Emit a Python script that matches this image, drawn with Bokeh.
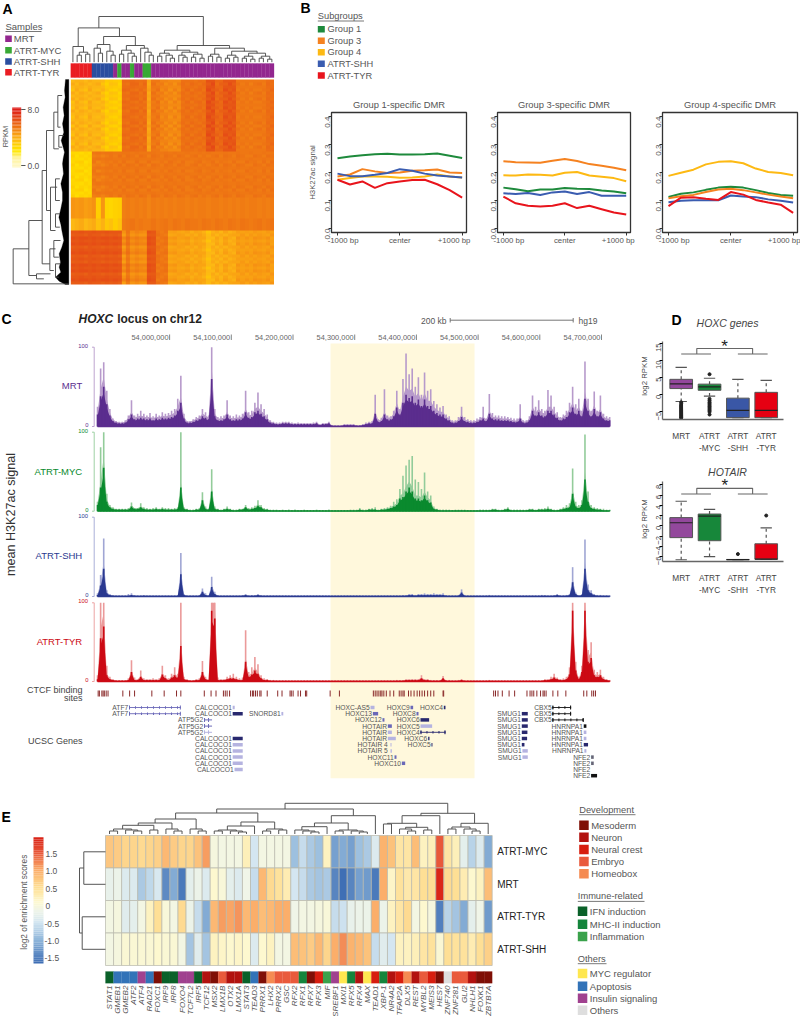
import numpy as np
from math import pi
from bokeh.core.properties import value
from bokeh.embed import file_html
from bokeh.layouts import column, row
from bokeh.models import FixedTicker, LinearAxis, LinearColorMapper, NumeralTickFormatter, Range1d
from bokeh.plotting import figure
from bokeh.resources import INLINE

FONT = "Liberation Sans"

# ---------- Panel A data ----------
SAMPLE_NAMES = ["MRT", "ATRT-MYC", "ATRT-SHH", "ATRT-TYR"]
SAMPLE_COLORS = ["#93278f", "#39a935", "#2b4ea0", "#ea1d23"]
A_ANNOT_GROUP = ["ATRT-TYR"]*5 + ["ATRT-SHH"]*5 + ["MRT"] + ["ATRT-MYC"] + ["MRT"]*2 + ["ATRT-MYC"] + ["MRT"]*2 + ["ATRT-MYC"]*2 + ["MRT"]*29
A_TEMPLATES = [
 [36,38,38,36,39,37,37,36,31,32,31,30,56,56,57,56,55,56,42,53,53,50,50,49,49,49,55,55,55,54,56,55,64,64,58,58,63,63,63,53,53,53,53,53,53,53,56,56],
 [40,36,40,38,36,38,40,33,29,34,33,28,55,54,58,58,54,58,40,55,51,52,48,50,47,51,56,54,57,55,54,57,62,66,56,60,61,65,61,55,52,54,51,54,55,52,57,55],
 [34,40,36,34,41,36,35,38,33,30,29,32,58,57,55,54,57,54,44,52,55,49,51,47,51,48,54,57,53,56,57,54,66,62,60,57,65,62,64,52,54,52,54,52,52,54,55,58],
 [27,26,25,28,26,53,54,53,54,54,53,53,54,54,53,54,53,53,53,54,53,53,54,53,54,53,53,54,53,53,54,53,54,53,53,53,54,53,53,54,53,53,54,53,53,54,53,53],
 [30,24,28,26,29,51,52,50,52,54,52,55,52,55,54,52,55,54,51,55,54,52,55,54,52,55,54,52,54,55,52,54,52,54,55,52,55,54,52,55,54,52,52,55,54,52,55,54],
 [26,29,30,24,27,54,50,52,53,52,54,52,55,52,52,55,52,52,55,52,52,54,52,55,53,52,55,52,52,54,55,52,53,55,52,54,53,52,55,52,52,55,53,54,52,55,52,55],
 [46,45,46,44,45,47,30,46,28,27,29,30,51,52,51,52,51,52,50,52,51,52,51,52,51,52,52,51,52,51,52,52,51,52,52,51,52,51,52,51,52,51,52,52,51,52,51,52],
 [36,38,40,36,38,40,34,38,32,34,30,33,52,53,54,52,53,52,52,54,52,53,54,52,54,53,52,54,53,53,52,54,53,52,54,53,52,54,53,52,54,53,52,53,54,52,53,54],
 [63,63,64,63,63,64,63,63,64,63,63,63,47,54,48,50,49,48,64,63,54,52,54,43,44,42,41,43,39,42,41,38,33,38,40,37,42,38,40,44,43,44,43,45,44,43,45,44],
 [61,62,62,60,63,62,62,60,62,61,62,60,44,52,46,48,46,46,62,62,55,53,52,41,42,44,43,40,42,39,43,40,35,40,37,40,38,41,42,42,45,42,45,43,45,44,43,46],
 [65,64,65,65,64,65,64,65,65,64,65,64,50,56,50,52,50,50,65,64,52,54,55,45,46,43,44,45,41,44,42,42,36,36,42,38,44,40,38,46,44,46,44,47,46,45,47,43],
]
A_ROW_ORDER = [0,1,0,2,1,0,1,2,0,2,1,0,2,0,1,2,1,0,2,1,0,2,1,0,
               3,4,3,5,4,3,5,3,4,5,3,4,5,3,4,
               6,6,6,6,6,6,6,7,7,7,7,
               8,9,10,8,10,9,8,10,9,8,9,10,8,10,9,8,10,9]
A_COL_TREE = (45.7,
  (34.3,
    (15.7, 0, (10, (7, 1, 2), (8, 3, 4))),
    (25.7,
      (17.7, (14, 5, (9, 6, 7)), (11, 8, (7, 9, 10))),
      (16.7, (12, (8, 11, 12), (9, 13, (6, 14, 15))), (14, 16, (10, 17, (7, 18, 19)))))),
  (16.7,
    (12, (9, (6, 20, 21), (7, 22, (4, 23, 24))), (10, (7, 25, (5, 26, 27)), (8, (5, 28, 29), (4, 30, 31)))),
    (14, (8, (6, 32, 33), (5, 34, 35)), (11, (7, (4, 36, 37), (5, 38, 39)), (9, (6, (4, 40, 41), (3, 42, 43)), (6, (4, 44, 45), (3, 46, 47)))))))
A_ROW_BRACKETS = [(38,745,850,85,205),(85,660,825,125,108),(125,510,790,138,148),(138,390,630,160,150),
                  (160,335,445,172,175),(150,560,690,170,165),(148,745,810,165,160),(108,820,835,150,130),
                  (172,285,380,185,180),(175,405,440,190,185),(165,535,600,178,178),(165,640,680,178,178),(160,720,770,180,175),(165,790,830,180,175)]
A_WEDGE = [(205,237),(195,237),(192,270),(194,290),(188,320),(191,345),(186,370),(190,395),(182,420),(188,440),(192,455),(188,475),(186,490),(189,520),
           (181,550),(186,575),(186,600),(181,625),(175,650),(181,672),(184,690),(190,720),(184,740),(176,760),(180,785),(176,800),(181,815),(165,830),(176,842),(195,852),(205,852)]

# ---------- Panel B data ----------
SUBGROUPS = ["Group 1", "Group 3", "Group 4", "ATRT-SHH", "ATRT-TYR"]
SUB_COLORS = ["#1e8a3c", "#f58220", "#fdb913", "#3a5cb0", "#e8141c"]
BIN_POS = [-1000,-800,-600,-400,-200,0,200,400,600,800,1000]
G1_DMR = [[.251,.257,.262,.265,.267,.264,.264,.265,.268,.260,.252],
          [.186,.193,.212,.204,.198,.200,.206,.208,.211,.200,.198],
          [.174,.180,.186,.186,.185,.181,.182,.186,.193,.186,.182],
          [.196,.187,.187,.192,.198,.212,.206,.196,.189,.186,.182],
          [.174,.157,.168,.145,.162,.168,.173,.174,.158,.137,.110]]
G3_DMR = [[.146,.140,.133,.139,.139,.145,.142,.141,.136,.132,.126],
          [.240,.237,.236,.235,.242,.248,.241,.230,.224,.217,.208],
          [.190,.189,.193,.192,.189,.199,.202,.189,.185,.180,.169],
          [.126,.123,.127,.120,.129,.132,.123,.130,.117,.117,.117],
          [.114,.090,.081,.079,.081,.090,.073,.081,.069,.057,.050]]
G4_DMR = [[.113,.124,.129,.138,.146,.149,.146,.137,.127,.120,.117],
          [.108,.115,.120,.130,.139,.142,.137,.129,.121,.114,.108],
          [.188,.199,.210,.229,.238,.240,.233,.214,.202,.198,.190],
          [.094,.099,.101,.101,.101,.118,.114,.112,.104,.099,.093],
          [.080,.110,.112,.106,.102,.130,.121,.102,.093,.085,.056]]

# ---------- Panel C data (bins of 5 kb from 53,885 kb) ----------
TRACK_START_KB = 53885
TRACK_STEP_KB = 5
MRT_MAX = [25,73,81,45,22,10,7,6,6,8, 14,33,14,16,20,16,14,17,13,16, 14,18,16,17,20,22,35,64,16,7, 7,9,12,14,22,18,14,100,22,12,
           13,14,33,14,13,15,14,16,45,18, 20,30,43,28,22,15,8,6,5,5, 6,6,6,5,4,5,4,4,4,4, 5,6,3,4,4,6,2,1,1,1,
           3,3,3,3,2,2,3,5,6,7, 40,9,11,47,14,13,20,45,22,60, 92,66,73,50,62,40,68,45,47,32, 28,24,26,15,13,8,8,12,25,12,
           9,8,8,10,12,25,10,41,17,14, 14,13,13,12,11,10,10,28,8,8, 13,39,25,33,22,20,46,39,25,18, 12,15,20,30,50,28,35,20,82,35, 20,44,20,39,16,13,12]
MRT_MEAN = [15,38,50,28,14,7,5,4,4,5, 9,15,9,10,11,10,9,10,8,10, 9,11,10,11,12,14,20,30,10,5, 5,6,8,9,13,11,9,60,13,8,
            8,9,15,9,8,9,9,10,18,11, 12,18,20,16,13,9,5,4,3,3, 4,4,4,3,3,3,3,3,3,3, 3,4,2,3,3,4,1,1,1,1,
            2,2,2,2,1,1,2,3,4,4, 16,6,7,15,9,9,13,24,15,30, 40,36,38,30,34,26,34,26,26,20, 17,15,15,10,8,5,5,7,12,7,
            6,5,5,6,8,10,7,16,10,9, 9,8,8,8,7,6,6,10,5,5, 8,20,14,18,14,13,20,20,15,11, 8,10,12,18,24,16,20,13,35,20, 13,22,13,18,10,8,8]
MYC_MAX = [12,81,100,22,8,5,3,3,3,3, 4,11,4,4,10,5,4,3,4,5, 3,5,4,4,3,4,5,100,5,3, 2,2,3,4,24,6,3,53,6,3,
           2,3,6,3,2,2,3,3,8,4, 5,7,14,8,4,3,2,2,2,1, 2,1,2,1,2,1,1,2,1,1, 1,2,1,1,1,2,1,1,1,1,
           1,1,2,2,2,4,2,2,3,4, 5,2,3,4,5,7,12,15,28,45, 58,65,70,40,37,28,49,25,20,6, 3,2,2,2,2,1,2,2,2,2,
           1,1,1,1,2,2,2,2,3,3, 2,2,3,5,2,2,2,2,2,2, 3,3,2,3,3,4,6,3,2,2, 3,5,8,10,54,12,8,14,97,25, 8,5,4,3,3,2,2]
MYC_MEAN = [8,30,55,12,5,3,2,2,2,2, 2,6,3,3,5,3,2,2,2,3, 2,3,2,2,2,2,3,30,3,2, 1,1,2,2,14,3,2,25,3,2,
            1,2,3,2,1,1,2,2,5,2, 3,4,7,5,2,2,1,1,1,1, 1,1,1,1,1,1,1,1,1,1, 1,1,1,1,1,1,1,1,1,1,
            1,1,1,1,1,2,1,1,2,2, 2,1,2,2,3,4,6,8,16,18, 25,30,25,16,16,14,20,14,11,3, 2,1,1,1,1,1,1,1,1,1,
            1,1,1,1,1,1,1,1,2,2, 1,1,2,3,1,1,1,1,1,1, 2,2,1,2,2,2,3,2,1,1, 2,3,4,5,22,6,4,8,40,12, 4,3,2,2,1,1,1]
SHH_MAX = [4,27,73,8,3,2,1,1,1,1, 3,4,2,1,1,2,1,1,1,1, 1,1,1,1,1,1,2,55,3,1, 1,1,1,2,10,4,1,25,6,2,
           1,1,1,1,1,1,1,2,3,1, 2,2,3,2,1,1,1,1,1,1, 1,1,1,1,1,1,1,1,1,1, 1,1,1,1,1,1,1,1,1,1,
           1,1,1,1,1,1,1,1,1,1, 1,1,1,1,1,1,1,1,1,2, 2,3,3,2,3,3,4,3,3,4, 3,3,4,2,1,1,1,2,9,2,
           1,1,1,1,1,1,1,2,1,1, 1,1,1,1,1,1,1,1,1,1, 1,1,1,1,2,2,1,1,2,3, 1,1,2,3,37,5,1,3,72,15, 8,3,2,2,1,1,1]
SHH_MEAN = [2,14,35,4,2,1,1,1,1,1, 1,2,1,1,1,1,1,1,1,1, 1,1,1,1,1,1,1,28,2,1, 1,1,1,1,6,2,1,12,3,1,
            1,1,1,1,1,1,1,1,2,1, 1,1,2,1,1,1,1,1,1,1, 1,1,1,1,1,1,1,1,1,1, 1,1,1,1,1,1,1,1,1,1,
            1,1,1,1,1,1,1,1,1,1, 1,1,1,1,1,1,1,1,1,1, 1,2,2,1,2,2,2,2,2,2, 2,2,2,1,1,1,1,1,5,1,
            1,1,1,1,1,1,1,1,1,1, 1,1,1,1,1,1,1,1,1,1, 1,1,1,1,1,1,1,1,1,2, 1,1,1,2,18,3,1,2,35,8, 4,2,1,1,1,1,1]
TYR_MAX = [8,100,100,20,6,3,2,2,2,2, 4,27,5,3,14,4,3,3,4,3, 4,20,8,4,10,18,10,100,6,3, 2,2,3,4,26,6,3,100,100,5,
           3,3,6,8,10,6,4,5,65,12, 18,31,22,8,4,3,2,2,1,1, 1,1,1,1,1,1,1,1,1,1, 1,1,1,1,1,1,1,1,1,1,
           1,1,1,1,1,1,1,1,1,1, 1,1,1,1,1,1,1,2,2,2, 3,3,3,3,3,8,3,3,2,2, 2,2,7,2,2,1,1,2,3,1,
           1,1,1,1,1,1,1,2,1,1, 1,1,1,1,1,1,1,1,1,1, 1,1,1,1,1,3,3,6,10,5, 3,4,6,18,100,25,6,20,100,40, 50,15,12,15,6,3,2]
TYR_MEAN = [3,55,70,8,3,2,1,1,1,1, 2,12,2,2,6,2,2,2,2,2, 2,9,4,2,5,8,5,45,3,2, 1,1,2,2,12,3,2,90,80,2,
            2,2,3,4,4,3,2,2,25,6, 9,14,10,4,2,2,1,1,1,1, 1,1,1,1,1,1,1,1,1,1, 1,1,1,1,1,1,1,1,1,1,
            1,1,1,1,1,1,1,1,1,1, 1,1,1,1,1,1,1,1,1,1, 2,2,2,2,2,4,2,2,1,1, 1,1,4,1,1,1,1,1,2,1,
            1,1,1,1,1,1,1,1,1,1, 1,1,1,1,1,1,1,1,1,1, 1,1,1,1,1,2,2,3,5,3, 2,2,3,9,90,14,3,12,90,25, 30,8,6,8,3,2,1]
GENOME_TICKS_KB = [54000,54100,54200,54300,54400,54500,54600,54700]
GENOME_TICK_LABELS = ["54,000,000","54,100,000","54,200,000","54,300,000","54,400,000","54,500,000","54,600,000","54,700,000"]
CTCF_KB = [-114,-112,-108,-106,-104,-101,-98,-74,-63,-55,-27,-7,13,20,58,69,77,89,92,95,99,133,136,138,141,144,148,150,160,177,184,197,199,202,210,214,222,224,262,277,
           332,335,338,341,344,346,349,353,359,365,374,377,380,382,389,393,398,403,407,411,415,420,425,430,445,446,
           527,530,534,541,552,561,581,586,589,592,597,603,607,609,612,623,631,644,673,678,686,689,692]
GENE_NAMES = ["ATF7","ATF7","CALCOCO1","CALCOCO1","SNORD81","ATP5G2","ATP5G2","ATP5G2","CALCOCO1","CALCOCO1","CALCOCO1","CALCOCO1","CALCOCO1","CALCOCO1",
              "HOXC-AS5","HOXC13","HOXC12","HOTAIR","HOTAIR","HOTAIR","HOTAIR  4","HOTAIR  5","HOXC11","HOXC10",
              "HOXC9","HOXC8","HOXC6","HOXC5","HOXC4","HOXC6","HOXC5","HOXC4",
              "SMUG1","SMUG1","SMUG1","SMUG1","SMUG1","SMUG1","SMUG1","SMUG1",
              "CBX5","CBX5","CBX5","HNRNPA1","HNRNPA1","HNRNPA1","HNRNPA1","HNRNPA1","NFE2","NFE2","NFE2","NFE2"]
GENE_START = [-64,-64,104,104,183,57.6,57.6,57.6,104,104,104,104,104,107,
              327.4,331.2,346.8,355.5,355.5,355.5,359.8,359.8,366.3,378.2,
              392.2,401.9,408.4,408.4,408.4,420.8,426.2,446.2,
              572.6,572.6,572.6,572.6,572.6,572.6,573.6,573.6,
              622.2,622.2,622.2,673,673,673,673,674,684.9,684.9,684.9,684.9]
GENE_END = [20,20,107.3,120.3,186,70.6,70.6,70.6,120.3,120.3,120.3,120.3,120.3,120.3,
            333.9,339.8,350,362,362,368.4,361.4,362,369.5,383.6,
            396.5,405.2,422.4,427.3,448.9,423,427.8,448.9,
            582.3,582.3,582.3,581.7,581.2,576.9,582.3,582.3,
            652.5,652.5,673,677.3,677.3,677.3,680,677.3,689.2,689.2,684.9,694.6]
GENE_ROW = [0,1,0,1,1,2,3,4,5,6,7,8,9,10, 0,1,2,3,4,5,6,7,8,9, 0,1,2,3,4,5,6,0, 1,2,3,4,5,6,7,8, 0,1,2,3,4,5,6,7,8,9,10,11]
GENE_SHADE = ["m","m","l","d","l","m","m","l","d","l","l","l","l","l",
              "l","m","m","m","l","l","l","l","m","m",
              "m","m","d","l","d","d","d","d",
              "d","d","d","d","d","d","l","l",
              "k","k","k","k","l","l","d","l","g","g","g","k"]

# ---------- Panel D data ----------
BOX_LABELS = {1:"MRT", 2:"ATRT\n-MYC", 3:"ATRT\n-SHH", 4:"ATRT\n-TYR"}
BOX_COLORS = ["#93489c", "#17873a", "#3a57a6", "#e60012"]
HOXC_Q1 = [1.8, 1.3, -6.7, -6.7]
HOXC_MED = [3.2, 2.3, -4.6, -4.6]
HOXC_Q3 = [4.5, 3.1, -1.0, 0.7]
HOXC_HI = [8.0, 4.8, 4.5, 4.2]
HOXC_LO = [-2.0, -0.4, -6.7, -6.7]
HOXC_OUT_X = [1]*16 + [2]*12
HOXC_OUT_Y = [-2.2,-2.6,-3,-3.3,-3.6,-3.9,-4.2,-4.5,-4.8,-5.1,-5.4,-5.7,-6,-6.3,-6.6,-6.8, 6.0,-1.2,-1.7,-2.2,-2.6,-3,-3.4,-3.8,-4.2,-4.6,-5,-5.8]
HOT_Q1 = [-2.3, -2.9, -6.6, -6.5]
HOT_MED = [0.6, 1.9, -6.6, -6.5]
HOT_Q3 = [1.6, 2.3, -6.55, -3.5]
HOT_HI = [4.8, 3.2, -6.55, -0.4]
HOT_LO = [-6.6, -6.0, -6.6, -6.5]
HOT_OUT_X = [3, 4]
HOT_OUT_Y = [-5.5, 2.0]

# ---------- Panel E data ----------
TF_NAMES = ["STAT1","GMEB1","GMEB2","ATF2","ATF4","RAD21","FOXC1","IRF9","IRF8","FOXO4","TCF7L2","IRF5","TCF12","MSX2","LMX1B","OTX2","LMX1A","STAT3","TEAD3","PRRX1","LHX2","PRRX2","GSC","RFX2","RFX1","RFX7","RFX3","MIF","SREBF1","MXI1","RFX5","RFX4","MAX","TEAD1","XBP-1","NR4A2","TFAP2A","DLX5","REST","MYBL2","MEIS3","HES7","ZNF740","ZNF281","GLI2","NHLH1","FOXK1","ZBTB7A"]
ROW_NAMES = ["ATRT-MYC", "MRT", "ATRT-TYR", "ATRT-SHH"]
ENRICH_MYC = [.75,.7,.6,.6,.55,.6,.65,.9,.7,.6,.6,.8,1.1,-.05,-.1,-.1,-.1,.25,-.5,-.1,-.1,-.1,-.1,-.9,-.6,-.8,-.9,.2,-1.2,-1.1,-1.2,-.9,-.8,-.4,.95,.8,.4,.4,.85,.2,.25,1.5,.4,.25,-.3,-.7,-.4,-1.1]
ENRICH_MRT = [-.25,-.2,-.4,-.4,-.8,-.65,-.45,-1.4,-1.1,-1.55,-.3,-.2,-.4,.1,0,-.3,-.4,-.15,-.6,.9,.55,.45,.3,-.5,-.6,-.8,-.85,-.8,-1.45,-1.65,-1.45,-1.2,-1.25,-1.55,1.0,.15,.45,.35,.4,.5,.5,1.9,.55,.5,.3,.1,.2,.85]
ENRICH_TYR = [-.1,-.05,-.35,-.3,-.1,.2,.5,0,-.1,.55,-.2,-.6,-1.1,.9,1.1,1.05,1.15,.9,1.0,.85,.9,1.0,1.0,-.15,-.1,-.1,-.05,0,-.6,-.55,-.25,-.2,-.2,1.0,-.2,.2,.4,.55,-.1,.1,-.05,-1.5,-.7,-.85,-1.1,-.3,-.15,-1.25]
ENRICH_SHH = [-.1,-.05,.05,.05,.05,.05,.1,.05,.05,-.1,-.85,-.35,-.85,.2,.15,.1,.15,.1,-.4,.1,.2,-.1,-.1,.85,.8,.7,.9,.6,1.0,1.2,.95,.9,.8,-.6,-.35,-.5,.2,.2,.25,.4,.45,.05,.5,.45,.45,.3,.5,.65]
CAT_COLORS = {"Mesoderm":"#7f0f06","Neuron":"#b2120f","Neural crest":"#d71e0f","Embryo":"#e95a3c","Homeobox":"#f58b52",
              "IFN induction":"#0a6129","MHC-II induction":"#14853c","Inflammation":"#3aa24b",
              "MYC regulator":"#fee750","Apoptosis":"#3273b8","Insulin signaling":"#a0418f","Others":"#dedede"}
TF_CATS = ["IFN induction","Apoptosis","Apoptosis","Apoptosis","Insulin signaling","Apoptosis","Mesoderm","IFN induction","IFN induction","Insulin signaling","Insulin signaling","IFN induction","Neuron","Mesoderm","Embryo","Neuron","Neuron","IFN induction","Apoptosis","Mesoderm","Homeobox","Embryo","Embryo","Embryo","MHC-II induction","Mesoderm","Neural crest","Inflammation","Insulin signaling","MYC regulator","MHC-II induction","Neuron","MYC regulator","Neural crest","MHC-II induction","Neuron","Neural crest","Homeobox","Neuron","Embryo","Neural crest","Mesoderm","Others","Embryo","Embryo","Neuron","Mesoderm","Mesoderm"]
E_COL_TREE = (30.7,
  (25,
    (21,
      (15, (11, (8.7, (5, (3, 0, 1), (4, 2, (3, 3, 4))), (4, 5, 6)), (5, 7, (3, 8, 9))), (5, 10, (3, 11, 12))),
      (12, (8, (4, (3, 13, 14), (3, 15, (2, 16, 17))), 18), (5, (3, 19, 20), (4, 21, 22)))),
    (18.3, (11, (7.3, (4, 23, (3, 24, (2, 25, 26))), 27), (4, (3, 28, 29), (3, 30, (2, 31, 32)))), 33)),
  (20.7,
    (18.3, (10.7, (10, 34, 35), (6.7, (5, 36, (3, 37, 38)), (4, 39, 40))), 41),
    (10.7, (7, (5, 42, 43), (5, 44, (3, 45, 46))), 47)))
LEGEND_BLOCKS = [("Development", ["Mesoderm","Neuron","Neural crest","Embryo","Homeobox"]),
                 ("Immune-related", ["IFN induction","MHC-II induction","Inflammation"]),
                 ("Others", ["MYC regulator","Apoptosis","Insulin signaling","Others"])]

# ---------- helpers ----------
GREY = "#555555"

def canvas(x0, x1, y0, y1):
    p = figure(width=x1-x0, height=y1-y0, x_range=Range1d(x0, x1), y_range=Range1d(y1, y0),
               x_axis_type=None, y_axis_type=None, toolbar_location=None, output_backend="svg",
               min_border=0, outline_line_color=None)
    p.grid.visible = False
    p.background_fill_color = None
    return p

def mapped(a_px, b_px, v_a, v_b, lo_px, hi_px):
    k = (v_b-v_a)/(b_px-a_px)
    return Range1d(v_a+(lo_px-a_px)*k, v_a+(hi_px-a_px)*k)

def T(p, x, y, s, size=9.5, color=GREY, align="left", base="middle", style="normal", angle=0, **kw):
    p.text(x=[x], y=[y], text=[s], text_font=value(FONT), text_font_size=f"{size}px", text_color=color,
           text_align=align, text_baseline=base, text_font_style=style, angle=angle, **kw)

def underline(p, x0, x1, y, color=GREY):
    p.line([x0, x1], [y, y], line_color=color, line_width=0.8)

def walk(node, xs, ys):
    if isinstance(node, int):
        return node+0.5, 0
    h, l, r = node
    xl, hl = walk(l, xs, ys)
    xr, hr = walk(r, xs, ys)
    xs.append([xl, xl, xr, xr])
    ys.append([hl, h, h, hr])
    return (xl+xr)/2, h

def ramp(stops):
    vals = [s[0] for s in stops]
    rgb = np.array([[int(s[1][i:i+2], 16) for i in (1, 3, 5)] for s in stops], float)
    def f(v):
        return "#%02x%02x%02x" % tuple(int(round(np.interp(v, vals, rgb[:, c]))) for c in range(3))
    return f

heatA = ramp([(0,"#fff7c0"),(1,"#fff39a"),(2,"#ffe700"),(3,"#ffce00"),(3.6,"#fdb813"),(4.5,"#f89a12"),(5.3,"#ef7713"),(6.2,"#e85a15"),(7,"#e23a16"),(8,"#df1a17")])
heatE = ramp([(-1.65,"#3f6fb5"),(-1.0,"#8fb6da"),(-.5,"#d4e6f1"),(-.15,"#f0f5e8"),(.1,"#fdf8cf"),(.5,"#fedf95"),(1.0,"#fbae6a"),(1.5,"#e8583a"),(2.0,"#d7190f")])

# ---------- Panel A ----------
A = canvas(0, 300, 0, 300)
T(A, 2, 8, "A", 14, "black", style="bold")
T(A, 5, 26, "Samples", 9.5)
underline(A, 5, 41, 31)
for nm, col, y in zip(SAMPLE_NAMES, SAMPLE_COLORS, [38.3, 49.7, 61, 71.7]):
    A.rect(x=[8], y=[y], width=6.6, height=6.6, fill_color=col, line_color=None)
    T(A, 13.3, y, nm, 9.5)
A.extra_x_ranges["cols"] = mapped(70.3, 273.5, 0, 48, 0, 300)
A.extra_y_ranges["rows"] = mapped(79, 284, len(A_ROW_ORDER), 0, 300, 0)
A.extra_y_ranges["annot"] = mapped(63, 77, 1, 0, 300, 0)
A.extra_y_ranges["hgt"] = mapped(61.7, 16, 0, 45.7, 300, 0)
A.extra_y_ranges["rpkm"] = mapped(165, 109, 0, 8, 300, 0)
rows_arr = np.array([A_TEMPLATES[i] for i in A_ROW_ORDER], float)/10
pal = [heatA(v) for v in np.linspace(0, 8, 256)]
A.image(image=[rows_arr[::-1]], x=0, y=0, dw=48, dh=len(A_ROW_ORDER), x_range_name="cols", y_range_name="rows",
        color_mapper=LinearColorMapper(palette=pal, low=0, high=8))
ann = [SAMPLE_COLORS[SAMPLE_NAMES.index(g)] for g in A_ANNOT_GROUP]
A.quad(left=list(range(48)), right=list(range(1, 49)), bottom=[0]*48, top=[1]*48, fill_color=ann, line_color=ann,
       line_width=0.3, x_range_name="cols", y_range_name="annot")
xs, ys = [], []
walk(A_COL_TREE, xs, ys)
A.multi_line(xs=xs, ys=ys, line_color="#444444", line_width=0.9, x_range_name="cols", y_range_name="hgt")
A.patch(x=[a/3 for a, b in A_WEDGE], y=[b/3 for a, b in A_WEDGE], fill_color="black", line_color="black", line_width=0.3)
A.multi_line(xs=[[h1/3, xx/3, xx/3, h2/3] for xx, y1, y2, h1, h2 in A_ROW_BRACKETS],
             ys=[[y1/3, y1/3, y2/3, y2/3] for xx, y1, y2, h1, h2 in A_ROW_BRACKETS],
             line_color="#444444", line_width=0.9)
cb_v = np.linspace(-0.3, 8.3, 44)
A.quad(left=[11.7]*43, right=[20.7]*43, bottom=list(cb_v[:-1]), top=list(cb_v[1:]), fill_color=[heatA(v) for v in cb_v[:-1]],
       line_color=None, y_range_name="rpkm")
for v, lab in [(8, "8.0"), (0, "0.0")]:
    A.segment(x0=[20.7], x1=[25], y0=[v], y1=[v], line_color="#555555", line_width=1, y_range_name="rpkm")
    T(A, 27, v, lab, 8.5, y_range_name="rpkm")
T(A, 4.5, 136, "RPKM", 7.5, align="center", angle=pi/2)

# ---------- Panel B ----------
B_leg = canvas(300, 800, 0, 90)
T(B_leg, 300, 7, "B", 14, "black", style="bold")
T(B_leg, 317.3, 15, "Subgroups", 9.3)
underline(B_leg, 317.3, 363.5, 20.5)
for nm, col, y in zip(SUBGROUPS, SUB_COLORS, [28.7, 40.3, 51.7, 63.3, 75]):
    B_leg.rect(x=[320.8], y=[y], width=7, height=6.6, fill_color=col, line_color=None)
    T(B_leg, 327, y, nm, 9.3)

def dmr_panel(data, title, width, left, right, ylabel=False):
    p = figure(width=width, height=160, x_range=Range1d(-1096, 1070), y_range=Range1d(-0.0143, 0.4143),
               toolbar_location=None, output_backend="svg", min_border_left=left, min_border_right=right,
               min_border_top=22, min_border_bottom=18, title=title)
    p.title.text_font = FONT; p.title.text_font_size = "9.4px"; p.title.text_font_style = "normal"
    p.title.text_color = GREY; p.title.align = "center"; p.title.standoff = 5
    p.grid.visible = False
    p.outline_line_color = "#333333"; p.outline_line_width = 1.3
    p.xaxis.ticker = FixedTicker(ticks=[-1000, 0, 1000])
    p.xaxis.major_label_overrides = {-1000: "", 0: "", 1000: ""}
    p.xaxis.major_label_standoff = 0
    p.yaxis.ticker = FixedTicker(ticks=[0, .1, .2, .3, .4])
    p.yaxis.formatter = NumeralTickFormatter(format="0.0")
    p.yaxis.major_label_orientation = pi/2
    p.yaxis.major_label_text_font = FONT; p.yaxis.major_label_text_font_size = "8px"
    p.yaxis.major_label_text_color = GREY; p.yaxis.major_label_standoff = 1
    for ax in (p.xaxis, p.yaxis):
        ax.major_tick_in = 0; ax.major_tick_out = 3; ax.minor_tick_line_color = None
        ax.axis_line_color = "#333333"; ax.major_tick_line_color = "#333333"
    if ylabel:
        p.yaxis.axis_label = "H3K27ac signal"
        p.yaxis.axis_label_text_font = FONT; p.yaxis.axis_label_text_font_size = "7.8px"
        p.yaxis.axis_label_text_font_style = "normal"; p.yaxis.axis_label_text_color = GREY
        p.yaxis.axis_label_standoff = 3
    for vals, col in zip(data, SUB_COLORS):
        p.line(BIN_POS, vals, line_color=col, line_width=2)
    ax2 = LinearAxis(ticker=FixedTicker(ticks=[-910, 0, 870]),
                     major_label_overrides={-910: "-1000 bp", 0: "center", 870: "+1000 bp"},
                     major_tick_line_color=None, minor_tick_line_color=None, axis_line_color=None,
                     major_tick_out=0, major_tick_in=0, major_label_standoff=0,
                     major_label_text_font=FONT, major_label_text_font_size="7.8px", major_label_text_color=GREY)
    p.add_layout(ax2, "below")
    return p

B1 = dmr_panel(G1_DMR, "Group 1-specific DMR", 181, 31, 15, True)
B2 = dmr_panel(G3_DMR, "Group 3-specific DMR", 165, 16, 16)
B3 = dmr_panel(G4_DMR, "Group 4-specific DMR", 154, 16, 3)

# ---------- Panel C ----------
C = canvas(0, 625, 300, 790)
C.extra_x_ranges["g"] = mapped(168, 229.7, 54000, 54100, 0, 625)
C.extra_x_ranges["rel"] = mapped(168, 229.7, 0, 100, 0, 625)
C.extra_y_ranges["gene"] = mapped(707, 713.2, 0, 1, 790, 300)
C.quad(left=[54262.6], right=[54496], top=[343], bottom=[777.7], fill_color="#fff8dc", line_color=None, x_range_name="g")
T(C, 1, 318, "C", 14, "black", style="bold")
T(C, 78, 318.7, "HOXC", 12, "#222222", style="bold italic")
T(C, 116.7, 318.7, "locus on chr12", 12, "#222222", style="bold")
T(C, 446, 320, "200 kb", 8.5, align="right")
C.segment(x0=[449.7], x1=[572.7], y0=[319.7], y1=[319.7], line_color="#666666", line_width=0.9)
C.segment(x0=[449.7, 572.7], x1=[449.7, 572.7], y0=[317.5, 317.5], y1=[322, 322], line_color="#666666", line_width=0.9)
T(C, 578, 320, "hg19", 8.5)
for kb, lab in zip(GENOME_TICKS_KB, GENOME_TICK_LABELS):
    T(C, kb, 336.7, lab, 7.4, "#666666", align="right", x_range_name="g")
    C.segment(x0=[kb+1.8], x1=[kb+1.8], y0=[334], y1=[339.5], line_color="#666666", line_width=0.8, x_range_name="g")
tracks = [("MRT", MRT_MAX, MRT_MEAN, "#5b2d8e", "#b79acb", 426, 346.7, 385),
          ("ATRT-MYC", MYC_MAX, MYC_MEAN, "#0a8a2e", "#93cc9a", 510.7, 431.7, 471),
          ("ATRT-SHH", SHH_MAX, SHH_MEAN, "#2a3990", "#a0a6d4", 596, 516.7, 555),
          ("ATRT-TYR", TYR_MAX, TYR_MEAN, "#cc0a14", "#eb9a9a", 681, 602.3, 640.7)]
for nm, mx, mn, dark, light, base, top, ly_ in tracks:
    C.extra_y_ranges[nm] = mapped(base, top, 0, 100, 790, 300)
    kb = [TRACK_START_KB+TRACK_STEP_KB*i for i in range(len(mx))]
    envelope = [min(a, b*1.25) for a, b in zip(mx, mn)]
    C.varea(x=kb, y1=[0]*len(mx), y2=envelope, fill_color=light, x_range_name="g", y_range_name=nm)
    C.vbar(x=kb, width=2.6, bottom=0, top=mx, fill_color=light, line_color=None, x_range_name="g", y_range_name=nm)
    C.varea(x=kb, y1=[0]*len(mn), y2=[v*0.85 for v in mn], fill_color=dark, x_range_name="g", y_range_name=nm)
    C.vbar(x=kb, width=2.6, bottom=0, top=mn, fill_color=dark, line_color=None, x_range_name="g", y_range_name=nm)
    C.line(x=[kb[0], kb[-1]], y=[0, 0], line_color=dark, line_width=1.3, x_range_name="g", y_range_name=nm)
    C.multi_line(xs=[[91.5, 93.7, 93.7, 91.5]], ys=[[base, base, top, top]], line_color=light, line_width=0.9)
    T(C, 87.5, top-1.5, "100", 5.8, dark, align="right")
    T(C, 88, base-1.5, "0", 5.8, dark, align="right")
    T(C, 81.7, ly_, nm, 9.5, dark, align="right")
T(C, 10, 514, "mean H3K27ac signal", 12.6, "#333333", align="center", angle=pi/2)
T(C, 82, 689, "CTCF binding", 9, "#444444", align="right")
T(C, 82, 697.7, "sites", 9, "#444444", align="right")
T(C, 82, 740.7, "UCSC Genes", 9, "#444444", align="right")
C.segment(x0=CTCF_KB, x1=CTCF_KB, y0=[690]*len(CTCF_KB), y1=[696]*len(CTCF_KB), line_color="#8a2a2a", line_width=1, x_range_name="rel")
shade = {"d":"#28286e", "m":"#6a68b8", "l":"#b5b3e0", "k":"#111111", "g":"#666677"}
for nm, s, e, r, sh in zip(GENE_NAMES, GENE_START, GENE_END, GENE_ROW, GENE_SHADE):
    col = shade[sh]
    T(C, s-1.3, r, nm, 6.7, "#555555", align="right", x_range_name="rel", y_range_name="gene")
    if e <= s:
        continue
    if e-s < 20:
        if nm == "ATP5G2":
            C.line([s, e], [r, r], line_color=col, line_width=1, x_range_name="rel", y_range_name="gene")
            C.line([s, e], [r, r], line_color=col, line_width=4, line_dash="1 3", x_range_name="rel", y_range_name="gene")
        else:
            C.line([s, e], [r, r], line_color=col, line_width=3.5, x_range_name="rel", y_range_name="gene")
    else:
        C.line([s, e], [r, r], line_color=col, line_width=0.9, x_range_name="rel", y_range_name="gene")
        C.line([s, e], [r, r], line_color=col, line_width=2.6, line_dash="1 5", x_range_name="rel", y_range_name="gene")
        C.line([s, s+1.6], [r, r], line_color=col, line_width=4, x_range_name="rel", y_range_name="gene")
        C.line([e-1.6, e], [r, r], line_color=col, line_width=4, x_range_name="rel", y_range_name="gene")

# ---------- Panel D ----------
def box_panel(q1, med, q3, hi, lo, ox, oy, height, top, bottom, yr, bounds, ticks, br, star):
    p = figure(width=175, height=height, x_range=Range1d(0.34, 4.61), y_range=Range1d(*yr), toolbar_location=None,
               output_backend="svg", min_border_left=37, min_border_right=17, min_border_top=top, min_border_bottom=bottom,
               outline_line_color=None)
    p.grid.visible = False
    xs_ = [1, 2, 3, 4]
    p.segment(x0=xs_, x1=xs_, y0=q3, y1=hi, line_color="#555555", line_width=1.2, line_dash="3 3")
    p.segment(x0=xs_, x1=xs_, y0=lo, y1=q1, line_color="#555555", line_width=1.2, line_dash="3 3")
    p.segment(x0=[x-.2 for x in xs_], x1=[x+.2 for x in xs_], y0=hi, y1=hi, line_color="#555555", line_width=1.1)
    p.segment(x0=[x-.2 for x in xs_], x1=[x+.2 for x in xs_], y0=lo, y1=lo, line_color="#555555", line_width=1.1)
    p.quad(left=[x-.4 for x in xs_], right=[x+.4 for x in xs_], bottom=q1, top=q3, fill_color=BOX_COLORS, line_color="#555555", line_width=1)
    p.segment(x0=[x-.4 for x in xs_], x1=[x+.4 for x in xs_], y0=med, y1=med, line_color="#222222", line_width=1.2)
    p.scatter(x=ox, y=oy, size=3, color="#222222")
    y1, y2 = br
    p.multi_line(xs=[[1, 2.05], [3.0, 4.05], [1.55, 1.55, 3.52, 3.52]], ys=[[y1, y1], [y1, y1], [y1, y2, y2, y1]],
                 line_color="#666666", line_width=1.1)
    p.text(x=[star[0]], y=[star[1]], text=["*"], text_font=value(FONT), text_font_size="17px", text_color="#222222",
           text_align="center", text_baseline="middle")
    p.xaxis.ticker = FixedTicker(ticks=xs_)
    p.xaxis.major_label_overrides = BOX_LABELS
    p.xaxis.major_tick_line_color = None
    p.xaxis.major_label_standoff = 5
    p.xaxis.major_label_text_font = FONT; p.xaxis.major_label_text_font_size = "8.3px"; p.xaxis.major_label_text_color = "#444444"
    p.yaxis.ticker = FixedTicker(ticks=ticks)
    p.yaxis.bounds = bounds
    p.yaxis.major_label_orientation = pi/2
    p.yaxis.major_label_text_font = FONT; p.yaxis.major_label_text_font_size = "7.6px"; p.yaxis.major_label_text_color = "#444444"
    p.yaxis.major_label_standoff = 1
    p.yaxis.major_tick_in = 0; p.yaxis.major_tick_out = 3
    p.yaxis.axis_label = "log2 RPKM"
    p.yaxis.axis_label_text_font = FONT; p.yaxis.axis_label_text_font_size = "7.8px"
    p.yaxis.axis_label_text_font_style = "normal"; p.yaxis.axis_label_text_color = "#444444"
    p.yaxis.axis_label_standoff = 2
    for ax in (p.xaxis, p.yaxis):
        ax.minor_tick_line_color = None; ax.axis_line_color = "#666666"; ax.axis_line_width = 1.3
    return p

D_head = canvas(625, 800, 300, 330)
T(D_head, 638, 319, "D", 14, "black", style="bold")
T(D_head, 719, 322.7, "HOXC genes", 10.5, "#444444", align="center", style="italic")
D1 = box_panel(HOXC_Q1, HOXC_MED, HOXC_Q3, HOXC_HI, HOXC_LO, HOXC_OUT_X, HOXC_OUT_Y, 125, 2, 34,
               (-7.24, 18.19), (-7.24, 15.5), [-5, 0, 5, 10, 15], (11.9, 13.5), (2.53, 14.0))
D_head2 = canvas(625, 800, 455, 476)
T(D_head2, 719, 471, "HOTAIR", 10.5, "#444444", align="center", style="italic")
D2 = box_panel(HOT_Q1, HOT_MED, HOT_Q3, HOT_HI, HOT_LO, HOT_OUT_X, HOT_OUT_Y, 124, 0, 39,
               (-6.95, 9.61), (-6.95, 8.6), [-6, -4, -2, 0, 2, 4, 6, 8], (6.2, 7.3), (2.54, 7.9))

# ---------- Panel E ----------
E = canvas(0, 800, 790, 1016)
E.extra_x_ranges["cols"] = mapped(105, 491.7, 0, 48, 0, 800)
E.extra_y_ranges["rows"] = mapped(835, 965, 0, 4, 1016, 790)
E.extra_y_ranges["annot"] = mapped(971, 982.7, 0, 1, 1016, 790)
E.extra_y_ranges["hgt"] = mapped(833.5, 802.8, 0, 30.7, 1016, 790)
E.extra_y_ranges["score"] = mapped(905.7, 888.3, 0, 0.5, 1016, 790)
T(E, 1, 816.7, "E", 14, "black", style="bold")
matrix = [ENRICH_MYC, ENRICH_MRT, ENRICH_TYR, ENRICH_SHH]
lefts, rights, tops, bots, cols = [], [], [], [], []
for r, vals in enumerate(matrix):
    for c, v in enumerate(vals):
        lefts.append(c); rights.append(c+1); tops.append(r); bots.append(r+1); cols.append(heatE(v))
E.quad(left=lefts, right=rights, top=tops, bottom=bots, fill_color=cols, line_color="#b8b8ac", line_width=0.7,
       x_range_name="cols", y_range_name="rows")
anncols = [CAT_COLORS[c] for c in TF_CATS]
E.quad(left=list(range(48)), right=list(range(1, 49)), bottom=[0]*48, top=[1]*48, fill_color=anncols, line_color=anncols, line_width=0.2,
       x_range_name="cols", y_range_name="annot")
for i, nm in enumerate(TF_NAMES):
    T(E, i+0.5, 985, nm, 8.1, "#555555", align="right", style="italic", angle=pi/2, x_range_name="cols")
for i, nm in enumerate(ROW_NAMES):
    T(E, 496.7, i+0.5, nm, 10, "#222222", y_range_name="rows")
xs, ys = [], []
walk(E_COL_TREE, xs, ys)
E.multi_line(xs=xs, ys=ys, line_color="#555555", line_width=1, x_range_name="cols", y_range_name="hgt")
E.multi_line(xs=[[105, 83.3, 83.3, 105], [105, 81.7, 81.7, 105], [83.3, 79, 79, 81.7]],
             ys=[[851.3, 851.3, 883.8, 883.8], [916.3, 916.3, 948.8, 948.8], [867.5, 867.5, 932.5, 932.5]],
             line_color="#555555", line_width=1)
sv = np.linspace(-1.65, 1.98, 60)
E.quad(left=[33]*59, right=[43]*59, bottom=list(sv[:-1]), top=list(sv[1:]), fill_color=[heatE(v) for v in sv[:-1]], line_color=None, y_range_name="score")
for v, lab in zip([1.5, 1, .5, 0, -.5, -1, -1.5], ["1.5", "1.0", "0.5", "0", "-0.5", "-1.0", "-1.5"]):
    T(E, 45 if v >= 0 else 44, v, lab, 8.5, y_range_name="score")
T(E, 23.3, 901.7, "log2 of enrichment scores", 8.3, align="center", angle=pi/2)
ly = {"Development": (809, 578.7, [824.7, 836.7, 849, 861, 873.3]),
      "Immune-related": (895.7, 577.3, [910.7, 923.7, 936]),
      "Others": (958, 577.3, [973, 985.7, 997.7, 1009.7])}
ul = {"Development": 635, "Immune-related": 644, "Others": 606}
for head, items in LEGEND_BLOCKS:
    y0, x0, rows_y = ly[head]
    T(E, x0, y0, head, 9.3)
    underline(E, x0, ul[head], y0+5.2)
    for it, y in zip(items, rows_y):
        E.quad(left=[x0], right=[x0+9.5], top=[y-4.7], bottom=[y+4.7], fill_color=CAT_COLORS[it], line_color=None)
        T(E, x0+12, y, it, 9.5)

root = column(row(A, column(B_leg, row(B1, B2, B3))), row(C, column(D_head, D1, D_head2, D2)), E)
open("out.html", "w").write(file_html(root, INLINE))
